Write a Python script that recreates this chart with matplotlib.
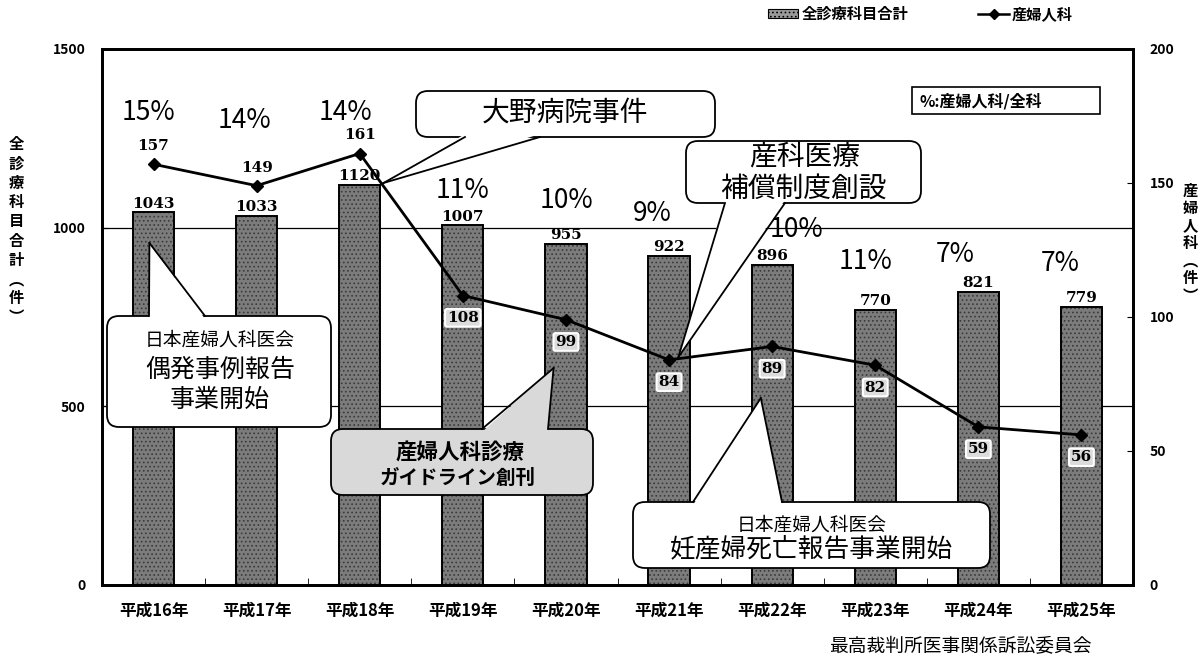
import matplotlib
matplotlib.use("Agg")
import matplotlib.pyplot as plt
import numpy as np
from matplotlib.lines import Line2D
from matplotlib.patches import FancyBboxPatch, Patch, Polygon, Rectangle
from matplotlib.transforms import IdentityTransform

plt.rcParams["font.family"] = ["Noto Sans CJK JP", "DejaVu Sans"]
plt.rcParams["hatch.linewidth"] = 0.7

# data
years = ["平成16年", "平成17年", "平成18年", "平成19年", "平成20年",
         "平成21年", "平成22年", "平成23年", "平成24年", "平成25年"]
all_total = [1043, 1033, 1120, 1007, 955, 922, 896, 770, 821, 779]
obgyn = [157, 149, 161, 108, 99, 84, 89, 82, 59, 56]
ratio_labels = ["15%", "14%", "14%", "11%", "10%", "9%", "10%", "11%", "7%", "7%"]

# layout only: where the ratio labels float (category offset, left-axis units)
ratio_label_dx = [-0.05, -0.12, -0.14, 0.0, 0.0, -0.16, 0.24, -0.09, -0.22, -0.21]
ratio_label_y = [1321, 1301, 1321, 1105, 1077, 1041, 996, 904, 926, 901]

W, H = 1203, 666
SERIF = "DejaVu Serif"

fig = plt.figure(figsize=(W / 100, H / 100), dpi=100)
ax = fig.add_axes([102 / W, 1 - 585 / H, (1133 - 102) / W, (585 - 49) / H])
ax2 = ax.twinx()

x = np.arange(len(years))
ax.bar(x, all_total, width=0.40, color="#7c7c7c", edgecolor="#3a3a3a",
       hatch="....", linewidth=0, zorder=2)
ax.bar(x, all_total, width=0.40, fill=False, edgecolor="black", linewidth=1.4, zorder=3)

ax.set_xlim(-0.5, 9.5)
ax.set_ylim(0, 1500)
ax.set_yticks([0, 500, 1000, 1500])
ax.set_xticks(x, labels=years)
ax.set_xticks(x[:-1] + 0.5, minor=True)
ax.grid(axis="y", color="black", linewidth=0.9)
ax.set_axisbelow(True)
ax.tick_params(axis="x", which="major", length=0, pad=12, labelsize=12)
ax.tick_params(axis="x", which="minor", direction="in", length=5)
ax.tick_params(axis="y", direction="in", length=4, pad=12, labelsize=10)
for lab in ax.get_xticklabels() + ax.get_yticklabels():
    lab.set_fontweight("bold")

ax2.plot(x, obgyn, color="black", linewidth=2, marker="D", markersize=6, zorder=4)
ax2.set_ylim(0, 200)
ax2.set_yticks([0, 50, 100, 150, 200])
ax2.tick_params(axis="y", direction="in", length=4, pad=12, labelsize=10)
for lab in ax2.get_yticklabels():
    lab.set_fontweight("bold")

for sp in list(ax.spines.values()) + list(ax2.spines.values()):
    sp.set_linewidth(2)

# bar totals
for xi, v in zip(x, all_total):
    ax.annotate(str(v), (xi, v), xytext=(0, 1), textcoords="offset points",
                ha="center", va="bottom", fontsize=11, fontweight="bold",
                family=SERIF, zorder=5)

# obstetrics counts
for i, (xi, v) in enumerate(zip(x, obgyn)):
    if i < 3:
        ax2.annotate(str(v), (xi, v), xytext=(0, 8), textcoords="offset points",
                     ha="center", va="bottom", fontsize=11, fontweight="bold",
                     family=SERIF, zorder=5)
    else:
        ax2.annotate(str(v), (xi, v), xytext=(0, -11), textcoords="offset points",
                     ha="center", va="top", fontsize=11, fontweight="bold",
                     family=SERIF, zorder=5,
                     bbox=dict(boxstyle="round,pad=0.12", fc="#dcdcdc", ec="white", lw=1.5))

# share of obstetrics in all departments
for xi, lab, dx, yy in zip(x, ratio_labels, ratio_label_dx, ratio_label_y):
    ax.text(xi + dx, yy, lab, ha="center", va="center", fontsize=19, zorder=5)


def pix(px, py):
    return (px, H - py)


def callout(box, texts, tip_ax, tip, bases, fc="white"):
    """Rounded box (reference pixels, top-left origin) with a wedge tail to a data point."""
    x0, y0, x1, y1 = box
    bx0, by0 = pix(x0, y1)
    fig.add_artist(FancyBboxPatch((bx0, by0), x1 - x0, y1 - y0,
                                  boxstyle="round,pad=0,rounding_size=12",
                                  fc=fc, ec="black", lw=1.3,
                                  transform=IdentityTransform(), zorder=10))
    tx, ty = tip_ax.transData.transform(tip)
    inset = -3 if ty < H - y1 else 3
    (ax_, ay_), (bx_, by_) = [pix(*b) for b in bases]
    fig.add_artist(Polygon([(ax_, ay_ - inset), (tx, ty), (bx_, by_ - inset)],
                           closed=True, fc=fc, ec="none",
                           transform=IdentityTransform(), zorder=11))
    for (px_, py_) in [(ax_, ay_), (bx_, by_)]:
        fig.add_artist(Line2D([px_, tx], [py_, ty], color="black", lw=1.3,
                              transform=IdentityTransform(), zorder=12))
    for text, cx, cy, size, weight in texts:
        fig.text(cx / W, 1 - cy / H, text, ha="center", va="center",
                 fontsize=size, fontweight=weight, zorder=13)


callout((416, 91, 715, 137), [("大野病院事件", 565, 113, 20, "normal")],
        ax, (2.23, 1125), [(465, 137), (540, 137)])
callout((686, 141, 921, 203), [("産科医療", 805, 157, 20, "normal"),
                                ("補償制度創設", 803, 189, 20, "normal")],
        ax2, (5.09, 85), [(725, 203), (785, 203)])
callout((107, 316, 331, 427), [("日本産婦人科医会", 220, 340, 13.5, "normal"),
                                ("偶発事例報告", 220, 370, 18, "normal"),
                                ("事業開始", 220, 400, 18, "normal")],
        ax, (-0.04, 957), [(149, 316), (205, 316)])
callout((331, 429, 593, 495), [("産婦人科診療", 460, 452, 15.5, "bold"),
                                ("ガイドライン創刊", 458, 478, 14, "bold")],
        ax, (3.88, 607), [(482, 429), (548, 429)], fc="#d9d9d9")
callout((633, 502, 990, 568), [("日本産婦人科医会", 812, 525, 13.5, "normal"),
                                ("妊産婦死亡報告事業開始", 811, 549, 18.5, "normal")],
        ax, (5.89, 523), [(693, 502), (782, 502)])

# ratio key box
fig.add_artist(Rectangle(pix(912, 114), 188, 27, fc="white", ec="black", lw=1.2,
                         transform=IdentityTransform(), zorder=10))
fig.text(920 / W, 1 - 101 / H, "%:産婦人科/全科", ha="left", va="center",
         fontsize=11.5, fontweight="bold", zorder=11)

# legend
handles = [Patch(facecolor="#9a9a9a", edgecolor="black", hatch="....", lw=0.8),
           Line2D([], [], color="black", lw=1.8, marker="D", markersize=5)]
fig.legend(handles, ["全診療科目合計", "産婦人科"], ncol=2, frameon=False,
           loc="center left", bbox_to_anchor=(760 / W, 1 - 14 / H),
           prop={"size": 11, "weight": "bold"}, handlelength=2.0,
           handleheight=0.55, handletextpad=0.2, columnspacing=4.6, borderpad=0)

# vertical axis titles
fig.text(16 / W, 1 - 231 / H, "\n".join("全診療科目合計︵件︶"), ha="center", va="center",
         fontsize=11, fontweight="bold", linespacing=1.25)
fig.text(1190 / W, 1 - 243 / H, "\n".join("産婦人科︵件︶"), ha="center", va="center",
         fontsize=11, fontweight="bold", linespacing=1.12)

fig.text(960 / W, 1 - 647 / H, "最高裁判所医事関係訴訟委員会", ha="center", va="center",
         fontsize=13.5)

fig.savefig("out.png", dpi=100)
